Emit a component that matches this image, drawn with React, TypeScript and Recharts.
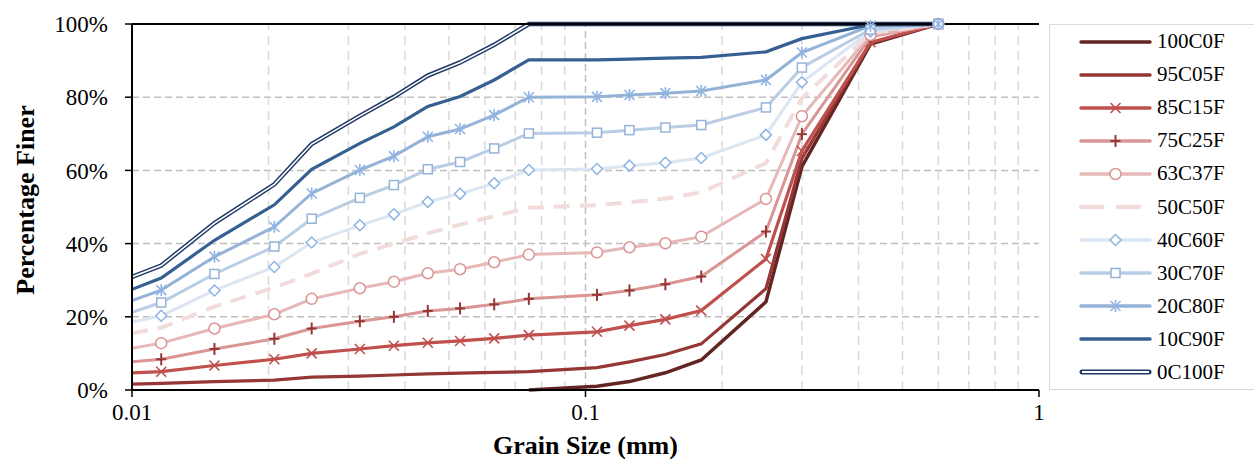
import React from "react";
import { CartesianGrid, Label, Line, LineChart, ReferenceLine, XAxis, YAxis } from "recharts";

const FONT = "'Liberation Serif', 'Times New Roman', serif";

// grain size (mm) — first point is the value where each curve meets the 0.01 axis edge
const grainSize = [
  0.01, 0.0116, 0.0152, 0.0206, 0.0249, 0.0318, 0.0378, 0.0449, 0.0529, 0.0629,
  0.075, 0.106, 0.125, 0.15, 0.18, 0.25, 0.3, 0.425, 0.6,
];

const c100f0 = [null, null, null, null, null, null, null, null, null, null, 0, 1.0, 2.3, 4.7, 8.2, 24.1, 61.0, 94.5, 100];
const c95f05 = [1.6, 1.8, 2.3, 2.7, 3.5, 3.8, 4.1, 4.4, 4.6, 4.8, 5.0, 6.1, 7.7, 9.7, 12.6, 27.7, 63.3, 94.8, 100];
const c85f15 = [4.7, 5.0, 6.7, 8.4, 10.0, 11.2, 12.1, 12.9, 13.4, 14.1, 15.0, 15.9, 17.6, 19.3, 21.7, 35.8, 65.3, 95.0, 100];
const c75f25 = [7.7, 8.4, 11.2, 14.0, 16.8, 18.8, 20.0, 21.6, 22.3, 23.4, 24.9, 26.0, 27.2, 28.9, 31.0, 43.3, 69.9, 96.5, 100];
const c63f37 = [11.4, 12.8, 16.8, 20.7, 24.9, 27.8, 29.6, 31.9, 33.0, 34.9, 37.0, 37.6, 39.0, 40.1, 41.9, 52.2, 74.8, 97.0, 100];
const c50f50 = [15.5, 17.0, 22.8, 28.0, 31.8, 37.2, 40.0, 42.8, 45.2, 47.5, 49.8, 50.5, 51.3, 52.3, 54.0, 62.0, 79.7, 97.5, 100];
const c40f60 = [18.6, 20.3, 27.2, 33.6, 40.3, 45.0, 48.0, 51.4, 53.6, 56.5, 60.1, 60.4, 61.3, 62.1, 63.4, 69.7, 84.1, 98.0, 100];
const c30f70 = [21.2, 23.9, 31.7, 39.2, 46.8, 52.5, 56.0, 60.3, 62.3, 66.0, 70.1, 70.3, 71.0, 71.7, 72.4, 77.2, 88.1, 98.5, 100];
const c20f80 = [24.4, 27.3, 36.4, 44.6, 53.7, 60.1, 63.9, 69.2, 71.3, 75.1, 80.0, 80.1, 80.6, 81.1, 81.7, 84.7, 92.2, 99.5, 100];
const c10f90 = [27.5, 30.6, 40.9, 50.6, 60.3, 67.4, 71.9, 77.5, 80.2, 84.7, 90.2, 90.2, 90.4, 90.7, 90.9, 92.4, 96.0, 99.8, 100];
const c0f100 = [30.9, 34.0, 45.6, 56.2, 67.2, 74.9, 80.1, 85.9, 89.5, 94.3, 100, 100, 100, 100, 100, 100, 100, 100, 100];

const xTicks = [0.01, 0.1, 1];
const yTicks = [0, 20, 40, 60, 80, 100];
const minorX = [0.02, 0.03, 0.04, 0.05, 0.06, 0.07, 0.08, 0.09, 0.2, 0.3, 0.4, 0.5, 0.6, 0.7, 0.8, 0.9];

type Marker = "none" | "x" | "plus" | "circle" | "diamond" | "square" | "star";

const series: {
  key: string; name: string; values: (number | null)[]; color: string; width: number;
  marker: Marker; markerColor?: string; dash?: string; double?: boolean;
}[] = [
  { key: "s0", name: "100C0F", values: c100f0, color: "#632523", width: 3.5, marker: "none" },
  { key: "s1", name: "95C05F", values: c95f05, color: "#953735", width: 3.2, marker: "none" },
  { key: "s2", name: "85C15F", values: c85f15, color: "#c0504d", width: 3.2, marker: "x", markerColor: "#c0504d" },
  { key: "s3", name: "75C25F", values: c75f25, color: "#d99694", width: 3, marker: "plus", markerColor: "#953735" },
  { key: "s4", name: "63C37F", values: c63f37, color: "#e6b9b8", width: 3, marker: "circle", markerColor: "#d99694" },
  { key: "s5", name: "50C50F", values: c50f50, color: "#f2dcdb", width: 4, marker: "none", dash: "16 10" },
  { key: "s6", name: "40C60F", values: c40f60, color: "#dce6f2", width: 3, marker: "diamond", markerColor: "#8eb4e3" },
  { key: "s7", name: "30C70F", values: c30f70, color: "#b9cde5", width: 3, marker: "square", markerColor: "#95b3d7" },
  { key: "s8", name: "20C80F", values: c20f80, color: "#95b3d7", width: 3, marker: "star", markerColor: "#8eb4e3" },
  { key: "s9", name: "10C90F", values: c10f90, color: "#376092", width: 3.2, marker: "none" },
  { key: "s10", name: "0C100F", values: c0f100, color: "#1f3864", width: 4.5, marker: "none", double: true },
];

const data = grainSize.map((d, i) => {
  const row: Record<string, number | null> = { d };
  series.forEach((s) => (row[s.key] = s.values[i]));
  return row;
});

function markerShape(kind: Marker, color: string, cx: number, cy: number, key?: string) {
  const r = 5;
  switch (kind) {
    case "x":
      return (
        <g key={key} stroke={color} strokeWidth={1.6}>
          <line x1={cx - r} y1={cy - r} x2={cx + r} y2={cy + r} />
          <line x1={cx - r} y1={cy + r} x2={cx + r} y2={cy - r} />
        </g>
      );
    case "plus":
      return (
        <g key={key} stroke={color} strokeWidth={2}>
          <line x1={cx - r} y1={cy} x2={cx + r} y2={cy} />
          <line x1={cx} y1={cy - r - 1} x2={cx} y2={cy + r + 1} />
        </g>
      );
    case "circle":
      return <circle key={key} cx={cx} cy={cy} r={5.5} fill="#fff" stroke={color} strokeWidth={1.5} />;
    case "square":
      return <rect key={key} x={cx - 4.5} y={cy - 4.5} width={9} height={9} fill="#fff" stroke={color} strokeWidth={1.5} />;
    case "diamond":
      return (
        <polygon key={key} points={`${cx},${cy - 5.5} ${cx + 5.5},${cy} ${cx},${cy + 5.5} ${cx - 5.5},${cy}`}
          fill="#fff" stroke={color} strokeWidth={1.5} />
      );
    case "star":
      return (
        <g key={key} stroke={color} strokeWidth={1.6}>
          <line x1={cx - r} y1={cy - r} x2={cx + r} y2={cy + r} />
          <line x1={cx - r} y1={cy + r} x2={cx + r} y2={cy - r} />
          <line x1={cx} y1={cy - r - 1} x2={cx} y2={cy + r + 1} />
        </g>
      );
    default:
      return <g key={key} />;
  }
}

function makeDot(kind: Marker, color: string) {
  return (p: any) => {
    const { cx, cy, index, value } = p;
    if (index === 0 || value == null || cx == null || cy == null || Number.isNaN(cy)) {
      return <g key={`e${index}`} />;
    }
    return markerShape(kind, color, cx, cy, `m${index}`);
  };
}

function LegendBox() {
  return (
    <div
      style={{
        position: "absolute", left: 1049, top: 24, width: 215, height: 366,
        border: "1.5px solid #d9d9d9", boxSizing: "border-box", fontFamily: FONT, fontSize: 21,
      }}
    >
      {series.map((s) => (
        <div key={s.key} style={{ height: 33.1, display: "flex", alignItems: "center" }}>
          <svg width={104} height={20} style={{ marginLeft: 29, flex: "none" }}>
            {s.double ? (
              <>
                <line x1={3} y1={10} x2={70} y2={10} stroke={s.color} strokeWidth={5} strokeLinecap="round" />
                <line x1={3} y1={10} x2={70} y2={10} stroke="#fff" strokeWidth={2} />
              </>
            ) : (
              <line x1={2} y1={10} x2={71} y2={10} stroke={s.color} strokeWidth={s.dash ? 4.5 : 3.5}
                strokeDasharray={s.dash ? "21 16" : undefined} strokeLinecap="round" />
            )}
            {s.marker !== "none" && markerShape(s.marker, s.markerColor || s.color, 36.5, 10)}
          </svg>
          <span style={{ marginLeft: -26, color: "#000" }}>{s.name}</span>
        </div>
      ))}
    </div>
  );
}

export default function App() {
  const tickStyle = { fontSize: 23, fill: "#000", fontFamily: FONT };
  return (
    <div style={{ position: "absolute", left: 0, top: 0, width: 1254, height: 459, background: "#fff" }}>
      <LineChart width={1045} height={459} data={data} margin={{ top: 24, right: 6, left: 0, bottom: 0 }}>
        <CartesianGrid vertical={false} stroke="#bfbfbf" strokeWidth={1.5} strokeDasharray="7 4" />
        {minorX.map((v) => (
          <ReferenceLine key={v} x={v} stroke="#d9d9d9" strokeWidth={1.5} strokeDasharray="9 6" />
        ))}
        <ReferenceLine x={0.1} stroke="#bfbfbf" strokeWidth={1.5} strokeDasharray="7 4" />
        <XAxis
          dataKey="d" type="number" scale="log" domain={[0.01, 1]} ticks={xTicks} allowDataOverflow
          height={69} tick={tickStyle} tickSize={7} tickMargin={7}
          axisLine={{ stroke: "#000", strokeWidth: 2 }} tickLine={{ stroke: "#000", strokeWidth: 1.5 }}
        >
          <Label
            position="insideBottom" offset={5} value="Grain Size (mm)"
            style={{ fontSize: 26, fontWeight: "bold", fill: "#000", fontFamily: FONT }}
          />
        </XAxis>
        <XAxis
          xAxisId="top" orientation="top" dataKey="d" type="number" scale="log" domain={[0.01, 1]}
          allowDataOverflow height={0} tick={false} tickLine={false} axisLine={{ stroke: "#000", strokeWidth: 2 }}
        />
        <YAxis
          domain={[0, 100]} ticks={yTicks} width={132} tick={tickStyle} tickSize={7} tickMargin={17}
          tickFormatter={(v) => `${v}%`} axisLine={{ stroke: "#000", strokeWidth: 2 }}
          tickLine={{ stroke: "#000", strokeWidth: 1.5 }}
        >
          <Label
            content={(p: any) => {
              const vb = p.viewBox || { y: 24, height: 366 };
              const cx = 25;
              const cy = vb.y + vb.height / 2 - 7;
              return (
                <text x={cx} y={cy} transform={`rotate(-90, ${cx}, ${cy})`} textAnchor="middle" dominantBaseline="central"
                  style={{ fontSize: 26, fontWeight: "bold", fill: "#000", fontFamily: FONT }}>
                  Percentage Finer
                </text>
              );
            }}
          />
        </YAxis>
        <YAxis yAxisId="right" orientation="right" domain={[0, 100]} width={0} tick={false} tickLine={false}
          axisLine={{ stroke: "#000", strokeWidth: 2 }} />
        {series.map((s) => (
          <Line
            key={s.key} dataKey={s.key} name={s.name} type="linear" stroke={s.color} strokeWidth={s.width}
            strokeDasharray={s.dash} dot={s.marker === "none" ? false : makeDot(s.marker, s.markerColor || s.color)}
            activeDot={false} isAnimationActive={false} connectNulls={false} legendType="none"
          />
        ))}
        <Line
          dataKey="s10" type="linear" stroke="#fff" strokeWidth={1.6} dot={false} activeDot={false}
          isAnimationActive={false} legendType="none"
        />
        {/* plot frame drawn over the curves, like the clipped top edge in the original */}
        <ReferenceLine y={100} stroke="#000" strokeWidth={2} />
      </LineChart>
      <LegendBox />
    </div>
  );
}
